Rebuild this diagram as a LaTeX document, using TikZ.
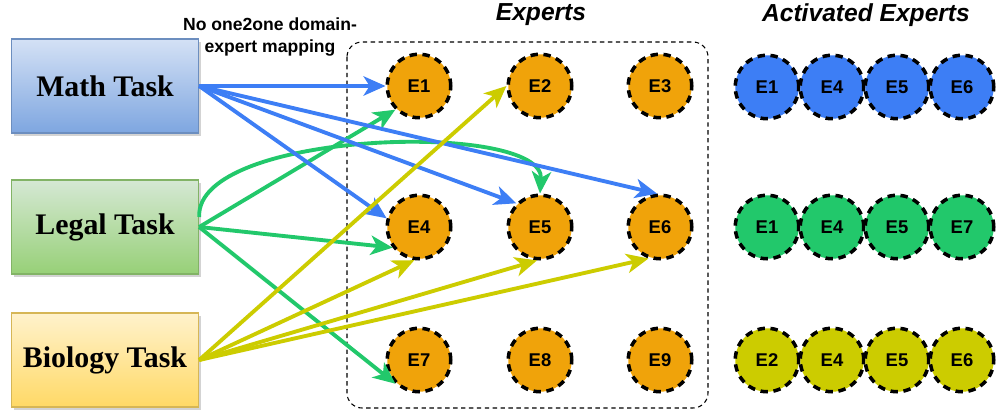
\documentclass[tikz,border=0pt]{standalone}
\usepackage{fontspec}
\setmainfont{Liberation Serif}
\setsansfont{Liberation Sans}
\usetikzlibrary{arrows.meta,shadows}

\definecolor{expertorange}{HTML}{F0A30A}
\definecolor{mathblue}{HTML}{3D7EF5}
\definecolor{legalgreen}{HTML}{22C86B}
\definecolor{bioyellow}{HTML}{CCCC00}
\definecolor{mathtop}{HTML}{D4E1F5}
\definecolor{mathbot}{HTML}{7EA6E0}
\definecolor{mathline}{HTML}{6C8EBF}
\definecolor{legaltop}{HTML}{D5E8D4}
\definecolor{legalbot}{HTML}{97D077}
\definecolor{legalline}{HTML}{82B366}
\definecolor{biotop}{HTML}{FFF2CC}
\definecolor{biobot}{HTML}{FFD966}
\definecolor{bioline}{HTML}{D6B656}

\tikzset{
  taskbox/.style={rectangle, minimum width=3.74cm, minimum height=1.88cm,
    inner sep=0pt, line width=0.8pt,
    drop shadow={shadow xshift=1.6pt, shadow yshift=-1.6pt, opacity=0.35},
    font=\fontsize{17}{20}\selectfont\bfseries},
  expert/.style={circle, minimum size=1.27cm, inner sep=0pt,
    draw=black, line width=2pt, dash pattern=on 4.2pt off 3.2pt,
    font=\sffamily\bfseries\fontsize{10.5}{12}\selectfont},
  flow/.style={line width=2.2pt, -{Stealth[length=12.5pt, width=11pt, inset=3.5pt]}},
  heading/.style={font=\sffamily\bfseries\itshape\fontsize{14}{16}\selectfont},
}

\begin{document}
\begin{tikzpicture}[x=0.02cm, y=-0.02cm]
\useasboundingbox (0,0) rectangle (1000,418);

% task boxes
\node[taskbox, draw=mathline, top color=mathtop, bottom color=mathbot] (math) at (105,86) {Math Task};
\node[taskbox, draw=legalline, top color=legaltop, bottom color=legalbot] (legal) at (105,227) {Legal Task};
\node[taskbox, draw=bioline, top color=biotop, bottom color=biobot] (bio) at (105,360) {Biology Task};

\node[font=\sffamily\bfseries\fontsize{10}{13}\selectfont, align=center] (note) at (270,37)
  {No one2one domain-\\expert mapping};

% expert pool
\node[heading] (poolhead) at (541,15) {Experts};
\node[heading] (acthead) at (866,15) {Activated Experts};
\draw[line width=0.6pt, dash pattern=on 2.5pt off 2pt, rounded corners=0.3cm]
  (347,42) rectangle (708,408);

\foreach \n/\x/\y in {1/419/86, 2/540/86, 3/660/86,
                      4/419/227, 5/540/227, 6/660/227,
                      7/419/360, 8/540/360, 9/660/360}
  \node[expert, fill=expertorange] (E\n) at (\x,\y) {E\n};

% activated experts per task
\foreach \lab [count=\i] in {E1,E4,E5,E6}
  \node[expert, fill=mathblue] (A\i) at (767+65*\i-65,87) {\lab};
\foreach \lab [count=\i] in {E1,E4,E5,E7}
  \node[expert, fill=legalgreen] (B\i) at (767+65*\i-65,227) {\lab};
\foreach \lab [count=\i] in {E2,E4,E5,E6}
  \node[expert, fill=bioyellow] (C\i) at (767+65*\i-65,360) {\lab};

% routing: legal
\coordinate (legalout) at ([yshift=0.2cm]legal.east);
\draw[flow, legalgreen] (legal.east) -- (E1.225);
\draw[flow, legalgreen] (legalout) .. controls (195,130) and (545,120) .. (E5.north);
\draw[flow, legalgreen] (legal.east) -- (E4.218);
\draw[flow, legalgreen] (legal.east) -- (E7.225);

% routing: math
\draw[flow, mathblue] (math.east) -- (E1.west);
\draw[flow, mathblue] (math.east) -- (E4.165);
\draw[flow, mathblue] (math.east) -- (E5.135);
\draw[flow, mathblue] (math.east) -- (E6.95);

% routing: biology
\draw[flow, bioyellow] (bio.east) -- (E2.west);
\draw[flow, bioyellow] (bio.east) -- (E4.262);
\draw[flow, bioyellow] (bio.east) -- (E5.265);
\draw[flow, bioyellow] (bio.east) -- (E6.250);
\end{tikzpicture}
\end{document}
